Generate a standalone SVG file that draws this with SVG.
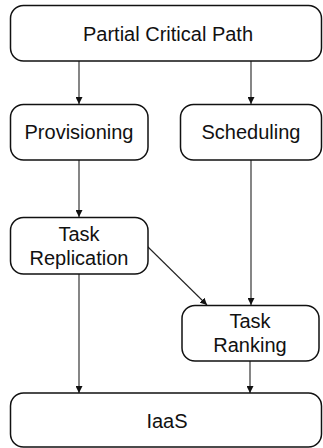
<svg xmlns="http://www.w3.org/2000/svg" width="323" height="448" viewBox="0 0 323 448">
<style>
.box{fill:#fff;stroke:#111;stroke-width:1.5}
.lbl{font-family:"Liberation Sans",Arial,sans-serif;font-size:20px;fill:#111;text-anchor:middle}
.edge{stroke:#222;stroke-width:1.1;fill:none;marker-end:url(#ah)}
</style>
<defs>
<marker id="ah" viewBox="0 0 10 10" refX="10" refY="5" markerWidth="7" markerHeight="7" markerUnits="userSpaceOnUse" orient="auto">
<path d="M0,0 L10,5 L0,10 z" fill="#111"/>
</marker>
</defs>
<rect width="323" height="448" fill="#fff"/>
<g id="connectors">
<line class="edge" x1="79" y1="61" x2="79" y2="104"/>
<line class="edge" x1="251" y1="61" x2="251" y2="104"/>
<line class="edge" x1="79" y1="160" x2="79" y2="217"/>
<line class="edge" x1="251" y1="160" x2="251" y2="305"/>
<line class="edge" x1="147" y1="246" x2="207" y2="305"/>
<line class="edge" x1="79" y1="274" x2="79" y2="393"/>
<line class="edge" x1="250" y1="361" x2="250" y2="393"/>
</g>
<g id="pcp">
<rect class="box" x="10.5" y="5.5" width="311" height="55.5" rx="13"/>
<text class="lbl" x="168" y="41">Partial Critical Path</text>
</g>
<g id="provisioning">
<rect class="box" x="10.5" y="104.5" width="137.5" height="55.5" rx="13"/>
<text class="lbl" x="79" y="139">Provisioning</text>
</g>
<g id="scheduling">
<rect class="box" x="180.5" y="104.5" width="141" height="55.5" rx="13"/>
<text class="lbl" x="251" y="139">Scheduling</text>
</g>
<g id="replication">
<rect class="box" x="10.5" y="217.5" width="137.5" height="56.5" rx="13"/>
<text class="lbl" x="79" y="241">Task</text>
<text class="lbl" x="79" y="265">Replication</text>
</g>
<g id="ranking">
<rect class="box" x="182" y="305.5" width="137" height="55.5" rx="13"/>
<text class="lbl" x="250" y="328">Task</text>
<text class="lbl" x="250" y="352">Ranking</text>
</g>
<g id="iaas">
<rect class="box" x="10.5" y="393" width="311" height="54" rx="13"/>
<text class="lbl" x="167" y="428">IaaS</text>
</g>
</svg>
